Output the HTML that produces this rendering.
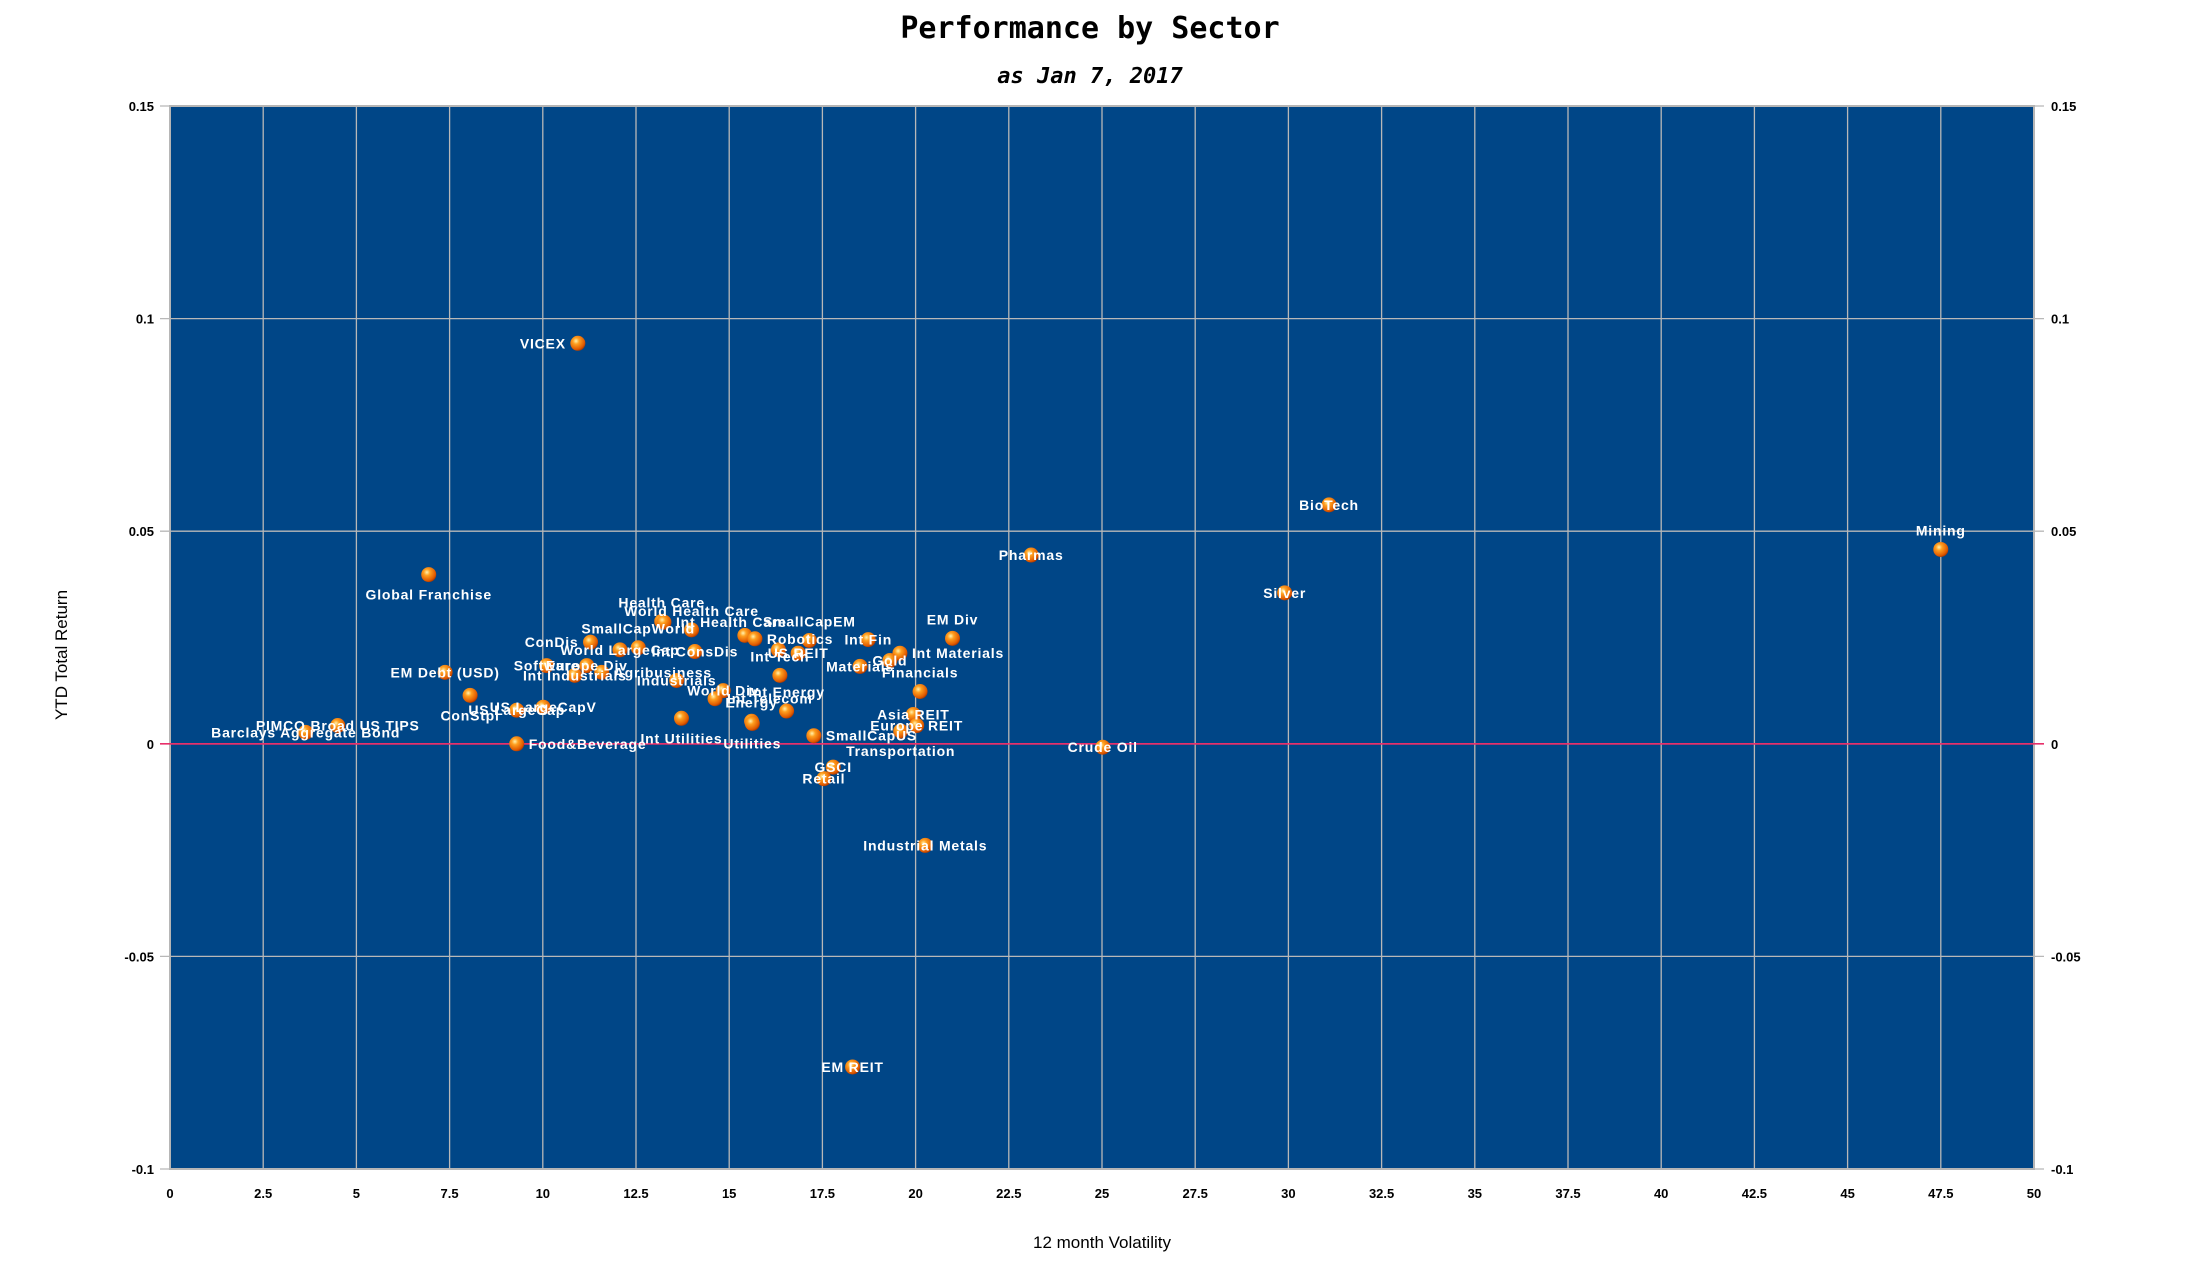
<!DOCTYPE html>
<html><head><meta charset="utf-8"><style>
html,body{margin:0;padding:0;background:#fff;}
svg{display:block;}
</style></head><body>
<svg id="chart" width="2191" height="1271" viewBox="0 0 2191 1271" xmlns="http://www.w3.org/2000/svg">
<defs>
<radialGradient id="ball" cx="0.38" cy="0.35" r="0.7">
<stop offset="0" stop-color="#fff3b0"/>
<stop offset="0.3" stop-color="#ffa020"/>
<stop offset="0.8" stop-color="#e05a00"/>
<stop offset="1" stop-color="#a03000"/>
</radialGradient>
</defs>
<text x="1090" y="38" text-anchor="middle" font-family="'DejaVu Sans Mono','Liberation Mono',monospace" font-weight="bold" font-size="30">Performance by Sector</text>
<text x="1090" y="83" text-anchor="middle" font-family="'DejaVu Sans Mono','Liberation Mono',monospace" font-weight="bold" font-style="italic" font-size="22">as Jan 7, 2017</text>
<g id="plot"></g>
<text transform="translate(67,655) rotate(-90)" text-anchor="middle" font-family="'Liberation Sans',sans-serif" font-size="17">YTD Total Return</text>
<text x="1102" y="1248" text-anchor="middle" font-family="'Liberation Sans',sans-serif" font-size="17">12 month Volatility</text>
</svg>
<script>
const names = ["VICEX","Global Franchise","BioTech","Mining","Pharmas","Silver","EM Div","Health Care","Int Health Care","World Health Care","ConDis","World LargeCap","SmallCapWorld","Int ConsDis","SmallCapEM","","Robotics","US REIT","","Int Tech","Int Fin","Int Materials","Materials","Gold","Financials","Asia REIT","Europe REIT","SmallCapUS","Transportation","GSCI","Retail","ConStpl","EM Debt (USD)","Software","Europe Div","Int Industrials","Agribusiness","US LargeCap","US LargeCapV","Food&Beverage","Int Utilities","Industrials","World Div","Int Telecom","Energy","Utilities","Int Energy","Barclays Aggregate Bond","PIMCO Broad US TIPS","Crude Oil","Industrial Metals","EM REIT"];
const volatility = [10.94,6.94,31.09,47.5,23.1,29.9,20.99,13.19,13.25,13.99,11.28,12.07,12.56,14.08,17.15,15.42,15.69,16.85,16.32,16.36,18.73,19.58,18.51,19.31,20.12,19.94,20.03,17.27,19.6,17.79,17.54,8.05,7.38,10.10,11.18,10.86,11.58,9.30,10.01,9.30,13.72,13.59,14.84,14.62,15.60,15.62,16.54,3.64,4.50,25.02,20.26,18.31];
const ytdReturn = [0.0942,0.0398,0.0562,0.0457,0.0444,0.0355,0.0248,0.0288,0.0286,0.0268,0.0239,0.0221,0.0226,0.0217,0.0243,0.0255,0.0247,0.0213,0.0221,0.0161,0.0245,0.0213,0.0182,0.0196,0.0123,0.0069,0.0043,0.0019,0.0030,-0.0055,-0.0082,0.0114,0.0168,0.0184,0.0184,0.0161,0.0168,0.0079,0.0086,0.0000,0.0060,0.0149,0.0125,0.0106,0.0053,0.0048,0.0077,0.0027,0.0043,-0.0008,-0.0239,-0.0760];
const labelPos = ["l","b","c","a","c","c","a","a","r","a","l","c","a","c","a","c","r","c","c","a","c","r","c","c","a","c","c","r","b","c","c","b","c","c","c","c","r","c","c","r","b","c","c","r","a","b","a","c","c","c","c","c"];
const xTicks = [0,2.5,5,7.5,10,12.5,15,17.5,20,22.5,25,27.5,30,32.5,35,37.5,40,42.5,45,47.5,50];
const yTicks = [-0.1,-0.05,0,0.05,0.1,0.15];

const L=170,R=2034,T=106,B=1169;
const xMin=0,xMax=50,yMin=-0.1,yMax=0.15;
function sx(v){return L+(v-xMin)/(xMax-xMin)*(R-L);}
function sy(v){return B-(v-yMin)/(yMax-yMin)*(B-T);}
const NS="http://www.w3.org/2000/svg";
const g=document.getElementById('plot');
function mk(tag,attrs,parent){const e=document.createElementNS(NS,tag);for(const k in attrs)e.setAttribute(k,attrs[k]);(parent||g).appendChild(e);return e;}

const bg=mk('rect',{x:L,y:T,width:R-L,height:B-T,fill:'#004687',stroke:'#b0b0b0','stroke-width':2});



xTicks.forEach(t=>{
  const x=sx(t);
  const ln=mk('line',{x1:x,y1:T,x2:x,y2:B,stroke:'#b8b8b8','stroke-width':1.3});
  
  
  const tx=mk('text',{x:x,y:B+29,'text-anchor':'middle','font-family':"'Liberation Sans',sans-serif",'font-weight':'bold','font-size':13});
  tx.textContent=String(t);
  
  
});
yTicks.forEach(t=>{
  const y=sy(t);
  const ln=mk('line',{x1:L-10,y1:y,x2:R+10,y2:y,stroke:t===0?'#e8306a':'#b8b8b8','stroke-width':t===0?1.6:1.3});
  
  
  const lab=String(t);
  const t1=mk('text',{x:L-16,y:y+5,'text-anchor':'end','font-family':"'Liberation Sans',sans-serif",'font-weight':'bold','font-size':13});
  t1.textContent=lab;
  
  
  const t2=mk('text',{x:R+17,y:y+5,'text-anchor':'start','font-family':"'Liberation Sans',sans-serif",'font-weight':'bold','font-size':13});
  t2.textContent=lab;
  
  
});
// redraw zero line on top of gridlines
const zl=mk('line',{x1:L,y1:sy(0),x2:R,y2:sy(0),stroke:'#e8306a','stroke-width':1.6});



const pg=mk('g',{});


const lg=mk('g',{});


names.forEach((n,i)=>{
  const x=sx(volatility[i]),y=sy(ytdReturn[i]);
  const c=mk('circle',{cx:x,cy:y,r:7.5,fill:'url(#ball)'},pg);
  
  
  if(!n)return;
  const p=labelPos[i];
  let dx=0,dy=5,anc='middle';
  if(p==='a'){dy=-14;}
  else if(p==='b'){dy=25;}
  else if(p==='r'){dx=12;anc='start';}
  else if(p==='l'){dx=-12;anc='end';}
  const t=mk('text',{x:x+dx,y:y+dy,'text-anchor':anc,fill:'#ffffff','font-family':"'Liberation Sans',sans-serif",'font-weight':'bold','font-size':14,'letter-spacing':'0.8'},lg);
  t.textContent=n;
  
  
});
</script>
</body></html>
